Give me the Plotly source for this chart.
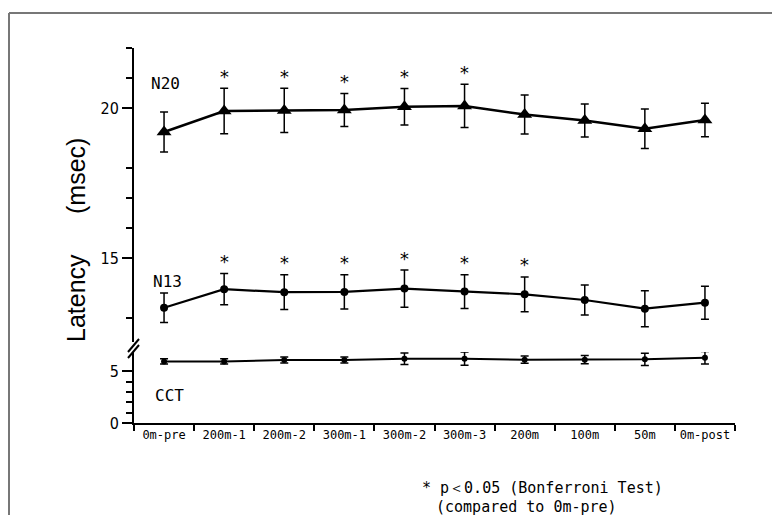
import plotly.graph_objects as go

categories = ["0m-pre", "200m-1", "200m-2", "300m-1", "300m-2", "300m-3",
              "200m", "100m", "50m", "0m-post"]
n20_mean = [19.2, 19.9, 19.92, 19.93, 20.04, 20.07, 19.78, 19.58, 19.31, 19.6]
n20_sd = [0.67, 0.76, 0.74, 0.55, 0.61, 0.72, 0.65, 0.55, 0.66, 0.56]
n13_mean = [13.34, 13.96, 13.86, 13.87, 13.98, 13.88, 13.79, 13.6, 13.31, 13.51]
n13_sd = [0.49, 0.52, 0.58, 0.57, 0.62, 0.56, 0.58, 0.5, 0.6, 0.55]
cct_mean = [5.96, 5.96, 6.1, 6.1, 6.22, 6.22, 6.13, 6.13, 6.16, 6.32]
cct_sd = [0.25, 0.25, 0.29, 0.29, 0.56, 0.64, 0.35, 0.39, 0.6, 0.6]
n20_sig = [False, True, True, True, True, True, False, False, False, False]
n13_sig = [False, True, True, True, True, True, True, False, False, False]

# page has an 8px body margin; figure is placed at (8, 8)
OFF = 8
W, H = 764, 507
L, T = 126, 40
PW, PH = 601, 375
R = W - L - PW
B = H - T - PH


def px(x):  # page pixel -> paper fraction
    return (x - OFF - L) / PW


def py(y):
    return (T + PH - (y - OFF)) / PH


MONO = "DejaVu Sans Mono, monospace"
fig = go.Figure()

err = dict(type="data", visible=True, thickness=1.5, width=4, color="black")

fig.add_trace(go.Scatter(
    x=categories, y=n20_mean, yaxis="y2", mode="lines+markers",
    line=dict(color="black", width=2.5),
    marker=dict(symbol="triangle-up", size=13, color="black"),
    error_y=dict(array=n20_sd, **err), showlegend=False))
fig.add_trace(go.Scatter(
    x=categories, y=n13_mean, yaxis="y2", mode="lines+markers",
    line=dict(color="black", width=2.2),
    marker=dict(symbol="circle", size=8, color="black"),
    error_y=dict(array=n13_sd, **err), showlegend=False))
fig.add_trace(go.Scatter(
    x=categories, y=cct_mean, yaxis="y", mode="lines+markers",
    line=dict(color="black", width=2),
    marker=dict(symbol="circle", size=6, color="black"),
    error_y=dict(array=cct_sd, **err), showlegend=False))

ann = []
star_font = dict(family=MONO, size=18, color="black")
for c, m, s, sig in zip(categories, n20_mean, n20_sd, n20_sig):
    if sig:
        ann.append(dict(x=c, y=m + s, xref="x", yref="y2", text="*", showarrow=False,
                        xanchor="center", yanchor="middle", yshift=12, font=star_font))
for c, m, s, sig in zip(categories, n13_mean, n13_sd, n13_sig):
    if sig:
        ann.append(dict(x=c, y=m + s, xref="x", yref="y2", text="*", showarrow=False,
                        xanchor="center", yanchor="middle", yshift=12, font=star_font))

lab_font = dict(family=MONO, size=16, color="black")
for txt, xx, yy in [("N20", 165, 83), ("N13", 167, 281), ("CCT", 169, 395)]:
    ann.append(dict(x=px(xx), y=py(yy), xref="paper", yref="paper", text=txt,
                    xanchor="center", yanchor="middle", showarrow=False, font=lab_font))

tfont = dict(family="Liberation Sans, Arial, sans-serif", size=25, color="black")
ann.append(dict(x=px(76), y=py(298), xref="paper", yref="paper", text="Latency",
                xanchor="center", yanchor="middle", textangle=-90, showarrow=False,
                font=tfont))
ann.append(dict(x=px(76), y=py(176), xref="paper", yref="paper", text="(msec)",
                xanchor="center", yanchor="middle", textangle=-90, showarrow=False,
                font=tfont))

nfont = dict(family=MONO, size=15, color="black")
ann.append(dict(x=px(420), y=py(488), xref="paper", yref="paper", xanchor="left",
                yanchor="middle", text="* p＜0.05 (Bonferroni Test)", showarrow=False,
                font=nfont))
ann.append(dict(x=px(434), y=py(507), xref="paper", yref="paper", xanchor="left",
                yanchor="middle", text="(compared to 0m-pre)", showarrow=False, font=nfont))

shapes = [
    dict(type="line", xref="paper", yref="paper", x0=px(9), x1=px(780), y0=py(13), y1=py(13),
         line=dict(color="#777777", width=2)),
    dict(type="line", xref="paper", yref="paper", x0=px(9), x1=px(9), y0=py(13), y1=py(523),
         line=dict(color="#777777", width=2)),
    dict(type="line", xref="paper", yref="paper", x0=px(128), x1=px(139), y0=py(352), y1=py(339),
         line=dict(color="black", width=2)),
    dict(type="line", xref="paper", yref="paper", x0=px(128), x1=px(139), y0=py(358), y1=py(345),
         line=dict(color="black", width=2)),
]

yfont = dict(family="DejaVu Sans Condensed, DejaVu Sans, sans-serif", size=16, color="black")

fig.update_layout(
    width=W, height=H, margin=dict(l=L, r=R, t=T, b=B),
    paper_bgcolor="white", plot_bgcolor="white",
    annotations=ann, shapes=shapes,
    xaxis=dict(type="category", categoryorder="array", categoryarray=categories,
               range=[-0.5, 9.5], tickson="boundaries", ticks="outside", ticklen=6,
               tickwidth=1.5, tickcolor="black", showline=True, linecolor="black",
               linewidth=2, showgrid=False, zeroline=False, anchor="y", tickangle=0,
               tickfont=dict(family=MONO, size=12, color="black")),
    yaxis=dict(domain=[0, py(352)], range=[0, 6.87], tickmode="array", tickvals=[0, 5],
               ticktext=["0", "5"], ticks="outside", ticklen=10, tickwidth=1.5,
               tickcolor="black", showline=True, linecolor="black", linewidth=2,
               showgrid=False, zeroline=False, anchor="x", tickfont=yfont,
               minor=dict(tickmode="array", tickvals=[1, 2, 3, 4], ticks="outside",
                          ticklen=6, tickwidth=1.5, tickcolor="black", showgrid=False)),
    yaxis2=dict(domain=[py(342), 1], range=[12.2, 22], tickmode="array", tickvals=[15, 20],
                ticktext=["15", "20"], ticks="outside", ticklen=10, tickwidth=1.5,
                tickcolor="black", showline=True, linecolor="black", linewidth=2,
                showgrid=False, zeroline=False, anchor="x", tickfont=yfont,
                minor=dict(tickmode="array", tickvals=[13, 16, 17, 18, 21, 22],
                           ticks="outside", ticklen=6, tickwidth=1.5, tickcolor="black",
                           showgrid=False)),
)

fig.write_html("out.html")
